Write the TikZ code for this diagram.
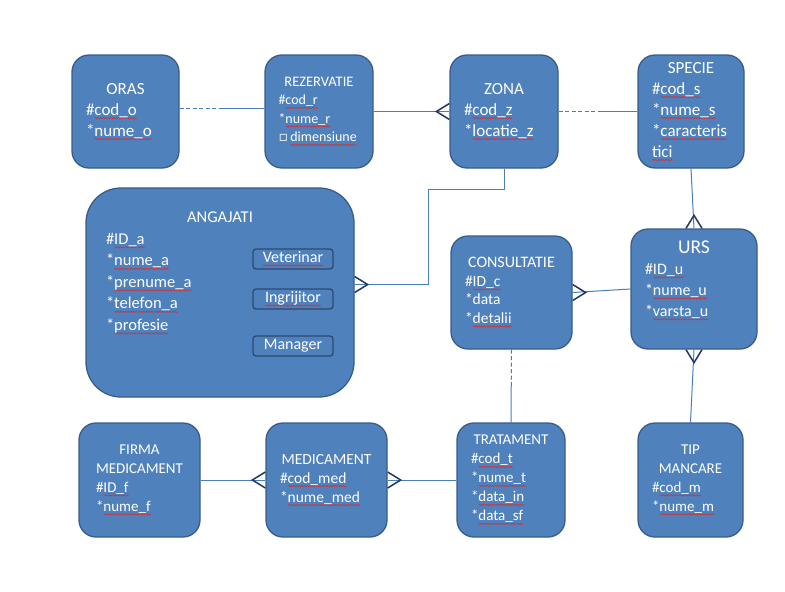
\documentclass[tikz,border=0pt]{standalone}
\usepackage{fontspec}
\setmainfont{Carlito}
\newfontfamily\symfont{DejaVu Sans}
\usetikzlibrary{decorations.pathmorphing}

\definecolor{boxfill}{HTML}{4F81BD}
\definecolor{boxline}{HTML}{385D8A}
\definecolor{relline}{HTML}{4A7EBB}
\definecolor{footline}{HTML}{1F3864}
\definecolor{spellred}{HTML}{D92B2B}

\tikzset{
  ent/.style={draw=boxline, fill=boxfill, line width=1.3pt, rounded corners=17pt,
    text=white, align=left, inner xsep=14pt, inner ysep=0pt},
  role/.style={draw=boxline!80!black, fill=boxfill, line width=1.3pt, rounded corners=3pt,
    text=white, minimum width=80pt, minimum height=20pt, inner sep=0pt},
  rel/.style={draw=relline, line width=1pt},
  halfrel/.style={rel, dash pattern=on 4pt off 2.5pt},
  foot/.style={draw=footline, line width=1.5pt},
  wave/.style={draw=spellred, line width=0.5pt, sharp corners, solid, decorate,
    decoration={snake, amplitude=0.7pt, segment length=2.6pt}},
}

% red spell-check wave under a word
\newsavebox\wavebox
\newlength\wavelen
\newcommand\wavy[1]{\leavevmode\setbox\wavebox\hbox{#1}\setlength\wavelen{\wd\wavebox}%
  \rlap{\tikz[baseline=0pt, sharp corners]\draw[wave] (0pt,-3pt) -- (\wavelen,-3pt);}\usebox\wavebox}
% centred title line of an entity
\newcommand\ttl[1]{\makebox[\linewidth][c]{#1}\\}
% crow's foot, pointing away from the box
\newcommand\crowfoot[2]{\draw[foot, shift={(#1)}, rotate=#2] (0pt,8pt) -- (13pt,0pt) -- (0pt,-8pt);}

\begin{document}
\begin{tikzpicture}[x=1pt, y=-1pt]
  \fill[white] (0,0) rectangle (785,592);

  % entities, top row
  \node[ent, text width=79pt, minimum height=113pt, font=\fontsize{17}{21}\selectfont] (oras) at (125.5,111.5)
    {\ttl{ORAS}\#\wavy{cod\_o}\\{*}\wavy{nume\_o}};
  \node[ent, text width=81pt, inner xsep=13.5pt, minimum height=113pt, font=\fontsize{14}{18.5}\selectfont] (rez) at (319,111.5)
    {\ttl{\fontsize{14.5}{18.5}\selectfont REZERVATIE}\#\wavy{cod\_r}\\{*}\wavy{nume\_r}\\{\symfont ▫}\,\wavy{dimensiune}};
  \node[ent, text width=80pt, minimum height=113pt, font=\fontsize{17}{21}\selectfont] (zona) at (504,111.5)
    {\ttl{ZONA}\#\wavy{cod\_z}\\{*}\wavy{locatie\_z}};
  \node[ent, text width=78pt, minimum height=113pt, font=\fontsize{17}{21}\selectfont] (specie) at (691,111.5)
    {\ttl{SPECIE}\#\wavy{cod\_s}\\{*}\wavy{nume\_s}\\{*}\wavy{caracteris}\\\wavy{tici}};

  % middle row
  \node[ent, text width=228pt, inner xsep=20pt, minimum height=209pt, rounded corners=35pt,
    font=\fontsize{16.5}{21.5}\selectfont] (ang) at (220,292.5)
    {\ttl{ANGAJATI}\#\wavy{ID\_a}\\{*}\wavy{nume\_a}\\{*}\wavy{prenume\_a}\\{*}\wavy{telefon\_a}\\{*}\wavy{profesie}\\[21pt]\mbox{}};
  \node[role, font=\fontsize{16}{18}\selectfont] (vet) at (293,259) {\wavy{Veterinar}};
  \node[role, font=\fontsize{16}{18}\selectfont] (ingr) at (293,299) {\wavy{Ingrijitor}};
  \node[role, font=\fontsize{16}{18}\selectfont] (mgr) at (293,346) {Manager};
  \node[ent, text width=93pt, minimum height=113pt, font=\fontsize{15.5}{18.5}\selectfont] (cons) at (511.5,292.5)
    {\ttl{\fontsize{16}{18.5}\selectfont CONSULTATIE}\#\wavy{ID\_c}\\{*}data\\{*}\wavy{detalii}};
  \node[ent, text width=98pt, minimum height=120pt, font=\fontsize{16}{21}\selectfont] (urs) at (694,289)
    {\ttl{\fontsize{19.5}{21}\selectfont URS}\#\wavy{ID\_u}\\{*}\wavy{nume\_u}\\{*}\wavy{varsta\_u}\\\mbox{}};

  % bottom row
  \node[ent, text width=87pt, inner xsep=17pt, minimum height=114pt, font=\fontsize{15}{19}\selectfont] (firma) at (139.5,480)
    {\ttl{FIRMA}\ttl{MEDICAMENT}\#\wavy{ID\_f}\\{*}\wavy{nume\_f}};
  \node[ent, text width=93pt, minimum height=114pt, font=\fontsize{15.5}{19}\selectfont] (med) at (326.5,480)
    {\ttl{MEDICAMENT}\#\wavy{cod\_med}\\{*}\wavy{nume\_med}};
  \node[ent, text width=80pt, minimum height=114pt, font=\fontsize{15}{19}\selectfont] (trat) at (511,480)
    {\ttl{TRATAMENT}\#\wavy{cod\_t}\\{*}\wavy{nume\_t}\\{*}\wavy{data\_in}\\{*}\wavy{data\_sf}};
  \node[ent, text width=77pt, minimum height=114pt, font=\fontsize{15}{19}\selectfont] (tip) at (690.5,480)
    {\ttl{TIP}\ttl{MANCARE}\#\wavy{cod\_m}\\{*}\wavy{nume\_m}};

  % relationships, optional halves dashed
  \path ([yshift=3.5pt]oras.east) -- coordinate[midway] (m1) ([yshift=3.5pt]rez.west);
  \draw[halfrel] ([yshift=3.5pt]oras.east) -- (m1);
  \draw[rel] (m1) -- ([yshift=3.5pt]rez.west);
  \path (zona.east) -- coordinate[midway] (m2) (specie.west);
  \draw[halfrel] (zona.east) -- (m2);
  \draw[rel] (m2) -- (specie.west);
  \path (cons.south) -- coordinate[midway] (m3) (trat.north);
  \draw[halfrel] (cons.south) -- (m3);
  \draw[rel] (m3) -- (trat.north);

  \draw[rel] (rez.east) -- (zona.west);
  \crowfoot{zona.west}{180}
  \draw[rel] (zona.south) |- (428,189) |- ([yshift=8pt]ang.east);
  \crowfoot{[yshift=8pt]ang.east}{0}
  \draw[rel] (specie.south) -- (urs.north);
  \crowfoot{urs.north}{90}
  \draw[rel] (urs.west) -- (cons.east);
  \crowfoot{cons.east}{0}
  \draw[rel] (urs.south) -- (tip.north);
  \crowfoot{urs.south}{-90}
  \draw[rel] (firma.east) -- (med.west);
  \crowfoot{med.west}{180}
  \draw[rel] (med.east) -- (trat.west);
  \crowfoot{med.east}{0}
\end{tikzpicture}
\end{document}
